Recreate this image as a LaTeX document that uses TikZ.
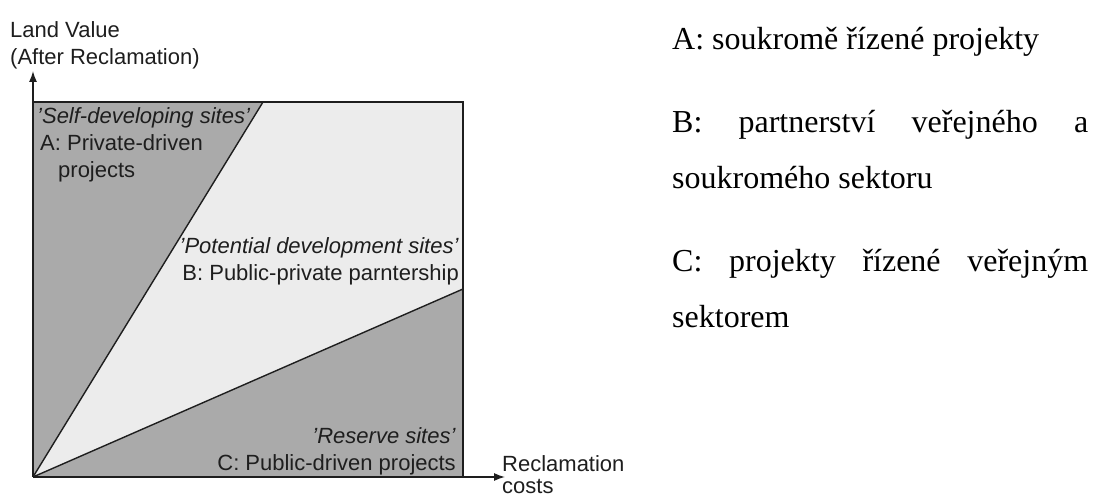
\documentclass[tikz,border=0pt]{standalone}
\usepackage{fontspec}
\setmainfont{Liberation Serif}
\setsansfont{Liberation Sans}
\usetikzlibrary{calc,arrows.meta}

\definecolor{darkfill}{RGB}{170,170,170}
\definecolor{lightfill}{RGB}{236,236,236}
\definecolor{ink}{RGB}{30,30,30}

\newcommand\notefont{\rmfamily\fontsize{32}{56}\selectfont\tolerance=10000 \hyphenpenalty=10000 }

\begin{document}
\begin{tikzpicture}[>={Latex[length=11pt,width=8pt]}, x=1pt, y=1pt,
    sitetext/.style={font=\sffamily\fontsize{22}{27}\selectfont, text=ink, inner sep=0pt},
    note/.style={font=\notefont, inner sep=0pt, anchor=base west}]
    \useasboundingbox (0,0) rectangle (1093,497);

    \coordinate (origin) at (33,20);
    \coordinate (boxtl)  at (33,395);
    \coordinate (boxtr)  at (463,395);
    \coordinate (boxbr)  at (463,20);
    \coordinate (splitA) at (263,395);
    \coordinate (splitC) at (463,208);
    \coordinate (ytip)   at (33,426);
    \coordinate (xtip)   at (505,20);

    \fill[lightfill] (origin) rectangle (boxtr);
    \fill[darkfill] (origin) -- (boxtl) -- (splitA) -- cycle;
    \fill[darkfill] (origin) -- (splitC) -- (boxbr) -- cycle;

    \draw[ink, line width=1.4pt] (boxtl) -- (boxtr) -- (boxbr);
    \path[ink, line width=1.4pt]
          (origin) edge       (splitA)
          (origin) edge       (splitC)
          (origin) edge[->]   (ytip)
          (origin) edge[->]   (xtip);

    \node[sitetext, anchor=south west, align=left] (ylabel) at (10,428) {Land Value\\(After Reclamation)};
    \node[sitetext, anchor=north west, align=left] (xlabel) at (502,42) {Reclamation\\[-5pt]costs};

    \node[sitetext, anchor=north west, align=left] (siteA) at (37,390)
         {\textit{'Self-developing sites'}\\\hspace*{3pt}A: Private-driven\\\hspace*{21pt}projects};
    \node[sitetext, anchor=north east, align=right] (siteB) at (459,260)
         {\textit{'Potential development sites'}\\B: Public-private parntership};
    \node[sitetext, anchor=south east, align=right] (siteC) at (456,22)
         {\textit{'Reserve sites'}\\C: Public-driven projects};

    \node[note] (noteA) at (672,447) {A: soukromě řízené projekty};
    \node[note, text width=416pt, align=justify] (noteB) at (672,364)
         {B: partnerství veřejného a soukromého sektoru};
    \node[note, text width=416pt, align=justify] (noteC) at (672,225)
         {C: projekty řízené veřejným sektorem};
\end{tikzpicture}
\end{document}
